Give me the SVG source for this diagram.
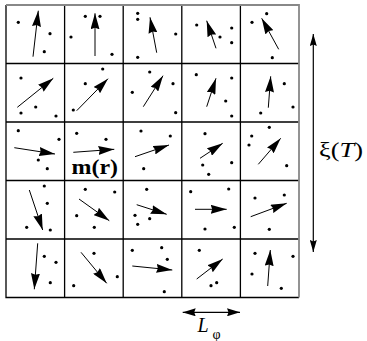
<svg xmlns="http://www.w3.org/2000/svg" width="367" height="341" viewBox="0 0 367 341">
<style>
.g{stroke:#000;stroke-width:1.3;fill:none}
.gb{stroke:#888;stroke-width:1.8;fill:none}
.a{stroke:#000;stroke-width:1;fill:none;marker-end:url(#h)}
.d{fill:#000}
.t{font-family:"Liberation Serif","Times New Roman",serif;fill:#000}
</style>
<defs>
<marker id="h" viewBox="0 0 16 9" refX="16" refY="4.5" markerWidth="16" markerHeight="9" markerUnits="userSpaceOnUse" orient="auto">
<path d="M0,0 L16,4.5 L0,9 L1.5,4.5 z" fill="#000"/>
</marker>
<marker id="H" viewBox="0 0 12 7" refX="12" refY="3.5" markerWidth="12" markerHeight="7" markerUnits="userSpaceOnUse" orient="auto-start-reverse">
<path d="M0,0 L12,3.5 L0,7 L1.5,3.5 z" fill="#000"/>
</marker>
<marker id="L" viewBox="0 0 13 8" refX="13" refY="4" markerWidth="13" markerHeight="8" markerUnits="userSpaceOnUse" orient="auto-start-reverse">
<path d="M0,0 L13,4 L0,8 L1.5,4 z" fill="#000"/>
</marker>
</defs>
<g id="grid">
<path class="g" d="M6,5 V297.5 H299 M64.6,5 V297.5 M123.2,5 V297.5 M181.8,5 V297.5 M240.4,5 V297.5 M6,63.5 H299 M6,122 H299 M6,180.5 H299 M6,239 H299"/>
<path class="gb" d="M6,5 H299 V297.5"/>
</g>
<g id="cells">
<g id="c00"><circle class="d" cx="18.3" cy="22.3" r="1.6"/><circle class="d" cx="50" cy="33.7" r="1.6"/><circle class="d" cx="44.3" cy="51.7" r="1.6"/><line class="a" x1="33" y1="56.7" x2="38.3" y2="10.7"/></g>
<g id="c01"><circle class="d" cx="71" cy="37" r="1.6"/><circle class="d" cx="85.3" cy="16.3" r="1.6"/><circle class="d" cx="100" cy="16.3" r="1.6"/><circle class="d" cx="112" cy="54.3" r="1.6"/><line class="a" x1="95" y1="56" x2="95" y2="13.3"/></g>
<g id="c02"><circle class="d" cx="137.7" cy="13.3" r="1.6"/><circle class="d" cx="137.7" cy="19.3" r="1.6"/><circle class="d" cx="175.7" cy="34" r="1.6"/><circle class="d" cx="137.7" cy="57.3" r="1.6"/><line class="a" x1="156.7" y1="52.7" x2="150" y2="17.3"/></g>
<g id="c03"><circle class="d" cx="196.7" cy="25" r="1.6"/><circle class="d" cx="220" cy="37" r="1.6"/><circle class="d" cx="231.7" cy="28" r="1.6"/><circle class="d" cx="231.7" cy="42.7" r="1.6"/><line class="a" x1="216" y1="48.3" x2="206.7" y2="20.7"/></g>
<g id="c04"><circle class="d" cx="252" cy="22.3" r="1.6"/><circle class="d" cx="266.7" cy="13.7" r="1.6"/><circle class="d" cx="272.3" cy="57.7" r="1.6"/><line class="a" x1="278.7" y1="49.3" x2="261.7" y2="18.3"/></g>
<g id="c10"><circle class="d" cx="21" cy="78" r="1.6"/><circle class="d" cx="35.7" cy="107" r="1.6"/><circle class="d" cx="21" cy="113" r="1.6"/><circle class="d" cx="56" cy="116" r="1.6"/><line class="a" x1="17.3" y1="107.3" x2="53.3" y2="78.3"/></g>
<g id="c11"><circle class="d" cx="102.7" cy="69" r="1.6"/><circle class="d" cx="85.3" cy="83.7" r="1.6"/><circle class="d" cx="73.3" cy="110" r="1.6"/><line class="a" x1="76.7" y1="110.7" x2="108" y2="78.7"/></g>
<g id="c12"><circle class="d" cx="149.7" cy="72" r="1.6"/><circle class="d" cx="132.3" cy="92.3" r="1.6"/><circle class="d" cx="173" cy="83.7" r="1.6"/><circle class="d" cx="175.7" cy="112.7" r="1.6"/><line class="a" x1="143.3" y1="106.7" x2="163" y2="75.7"/></g>
<g id="c13"><circle class="d" cx="196.3" cy="74.7" r="1.6"/><circle class="d" cx="231.7" cy="78" r="1.6"/><circle class="d" cx="225.7" cy="101" r="1.6"/><circle class="d" cx="231.7" cy="116" r="1.6"/><line class="a" x1="206.7" y1="106.7" x2="216" y2="78.3"/></g>
<g id="c14"><circle class="d" cx="284.3" cy="83.7" r="1.6"/><circle class="d" cx="260.7" cy="113" r="1.6"/><circle class="d" cx="293" cy="107" r="1.6"/><line class="a" x1="268.3" y1="107.7" x2="270.7" y2="76.3"/></g>
<g id="c20"><circle class="d" cx="18.3" cy="130.7" r="1.6"/><circle class="d" cx="59" cy="139.3" r="1.6"/><circle class="d" cx="38.3" cy="160" r="1.6"/><circle class="d" cx="47.3" cy="168.7" r="1.6"/><line class="a" x1="14.3" y1="147.7" x2="55" y2="154"/></g>
<g id="c21"><circle class="d" cx="76.7" cy="133.3" r="1.6"/><circle class="d" cx="106" cy="139.3" r="1.6"/><line class="a" x1="73.3" y1="152.3" x2="114.3" y2="149.3"/></g>
<g id="c22"><circle class="d" cx="141" cy="131" r="1.6"/><circle class="d" cx="170.3" cy="136" r="1.6"/><circle class="d" cx="143.7" cy="168.7" r="1.6"/><line class="a" x1="135" y1="156.7" x2="169" y2="145"/></g>
<g id="c23"><circle class="d" cx="205" cy="133.7" r="1.6"/><circle class="d" cx="202.7" cy="165" r="1.6"/><circle class="d" cx="208.7" cy="174.3" r="1.6"/><circle class="d" cx="231.7" cy="162.7" r="1.6"/><line class="a" x1="200" y1="158.3" x2="222.7" y2="143.3"/></g>
<g id="c24"><circle class="d" cx="269.3" cy="127.3" r="1.6"/><circle class="d" cx="251.7" cy="136" r="1.6"/><circle class="d" cx="249" cy="145" r="1.6"/><circle class="d" cx="286.7" cy="165.7" r="1.6"/><line class="a" x1="258.3" y1="164.3" x2="280.7" y2="138.3"/></g>
<g id="c30"><circle class="d" cx="44.3" cy="186" r="1.6"/><circle class="d" cx="47.3" cy="203.3" r="1.6"/><circle class="d" cx="26.7" cy="227.3" r="1.6"/><circle class="d" cx="50.3" cy="230" r="1.6"/><line class="a" x1="29.3" y1="190" x2="42.7" y2="230"/></g>
<g id="c31"><circle class="d" cx="85.3" cy="189.3" r="1.6"/><circle class="d" cx="114.7" cy="192" r="1.6"/><circle class="d" cx="76.7" cy="215.7" r="1.6"/><circle class="d" cx="94.3" cy="227.3" r="1.6"/><line class="a" x1="79" y1="199" x2="109.3" y2="220.7"/></g>
<g id="c32"><circle class="d" cx="146.7" cy="189.3" r="1.6"/><circle class="d" cx="135" cy="215.3" r="1.6"/><circle class="d" cx="149.7" cy="218.7" r="1.6"/><circle class="d" cx="137.7" cy="224.3" r="1.6"/><line class="a" x1="136.7" y1="204.7" x2="166.7" y2="214.3"/></g>
<g id="c33"><circle class="d" cx="190.7" cy="191.7" r="1.6"/><circle class="d" cx="228.7" cy="189" r="1.6"/><circle class="d" cx="205" cy="229" r="1.6"/><circle class="d" cx="234.3" cy="227.3" r="1.6"/><line class="a" x1="195" y1="209.3" x2="226.7" y2="209.3"/></g>
<g id="c34"><circle class="d" cx="255" cy="198" r="1.6"/><circle class="d" cx="284.3" cy="195" r="1.6"/><circle class="d" cx="269.3" cy="229.3" r="1.6"/><line class="a" x1="250.7" y1="216.7" x2="286.7" y2="203.3"/></g>
<g id="c40"><circle class="d" cx="44.3" cy="256.3" r="1.6"/><circle class="d" cx="56" cy="262.3" r="1.6"/><circle class="d" cx="50.3" cy="282.7" r="1.6"/><line class="a" x1="37.7" y1="243.3" x2="34.3" y2="289.3"/></g>
<g id="c41"><circle class="d" cx="94" cy="253.3" r="1.6"/><circle class="d" cx="73.7" cy="285.7" r="1.6"/><circle class="d" cx="117.3" cy="276.7" r="1.6"/><line class="a" x1="81" y1="252.3" x2="106.7" y2="283.3"/></g>
<g id="c42"><circle class="d" cx="132.3" cy="250.3" r="1.6"/><circle class="d" cx="161.7" cy="247.7" r="1.6"/><circle class="d" cx="167.3" cy="259.3" r="1.6"/><circle class="d" cx="164.3" cy="291.7" r="1.6"/><line class="a" x1="132.3" y1="266" x2="172.3" y2="270"/></g>
<g id="c43"><circle class="d" cx="199.3" cy="250.3" r="1.6"/><circle class="d" cx="211" cy="285.7" r="1.6"/><circle class="d" cx="216.7" cy="282.7" r="1.6"/><line class="a" x1="196.7" y1="279" x2="222.7" y2="259"/></g>
<g id="c44"><circle class="d" cx="255" cy="253.3" r="1.6"/><circle class="d" cx="252" cy="274" r="1.6"/><circle class="d" cx="293" cy="256.3" r="1.6"/><circle class="d" cx="281.3" cy="288.3" r="1.6"/><line class="a" x1="267.7" y1="286" x2="270.3" y2="250"/></g>
</g>
<g id="connectors">
<line x1="313.3" y1="34" x2="313.3" y2="252" stroke="#000" stroke-width="1.2" marker-start="url(#H)" marker-end="url(#H)"/>
<line x1="182.7" y1="312.3" x2="240" y2="312.3" stroke="#000" stroke-width="1.2" marker-start="url(#L)" marker-end="url(#L)"/>
</g>
<g id="labels">
<text class="t" x="71.5" y="174" font-size="22" font-weight="bold" textLength="46.5" lengthAdjust="spacingAndGlyphs">m(r)</text>
<text class="t" x="319" y="157" font-size="22" textLength="44" lengthAdjust="spacingAndGlyphs">ξ(<tspan font-style="italic">T</tspan>)</text>
<text class="t" x="197.5" y="332" font-size="20" font-style="italic">L</text>
<text class="t" x="212.5" y="338.5" font-size="14">φ</text>
</g>
</svg>
